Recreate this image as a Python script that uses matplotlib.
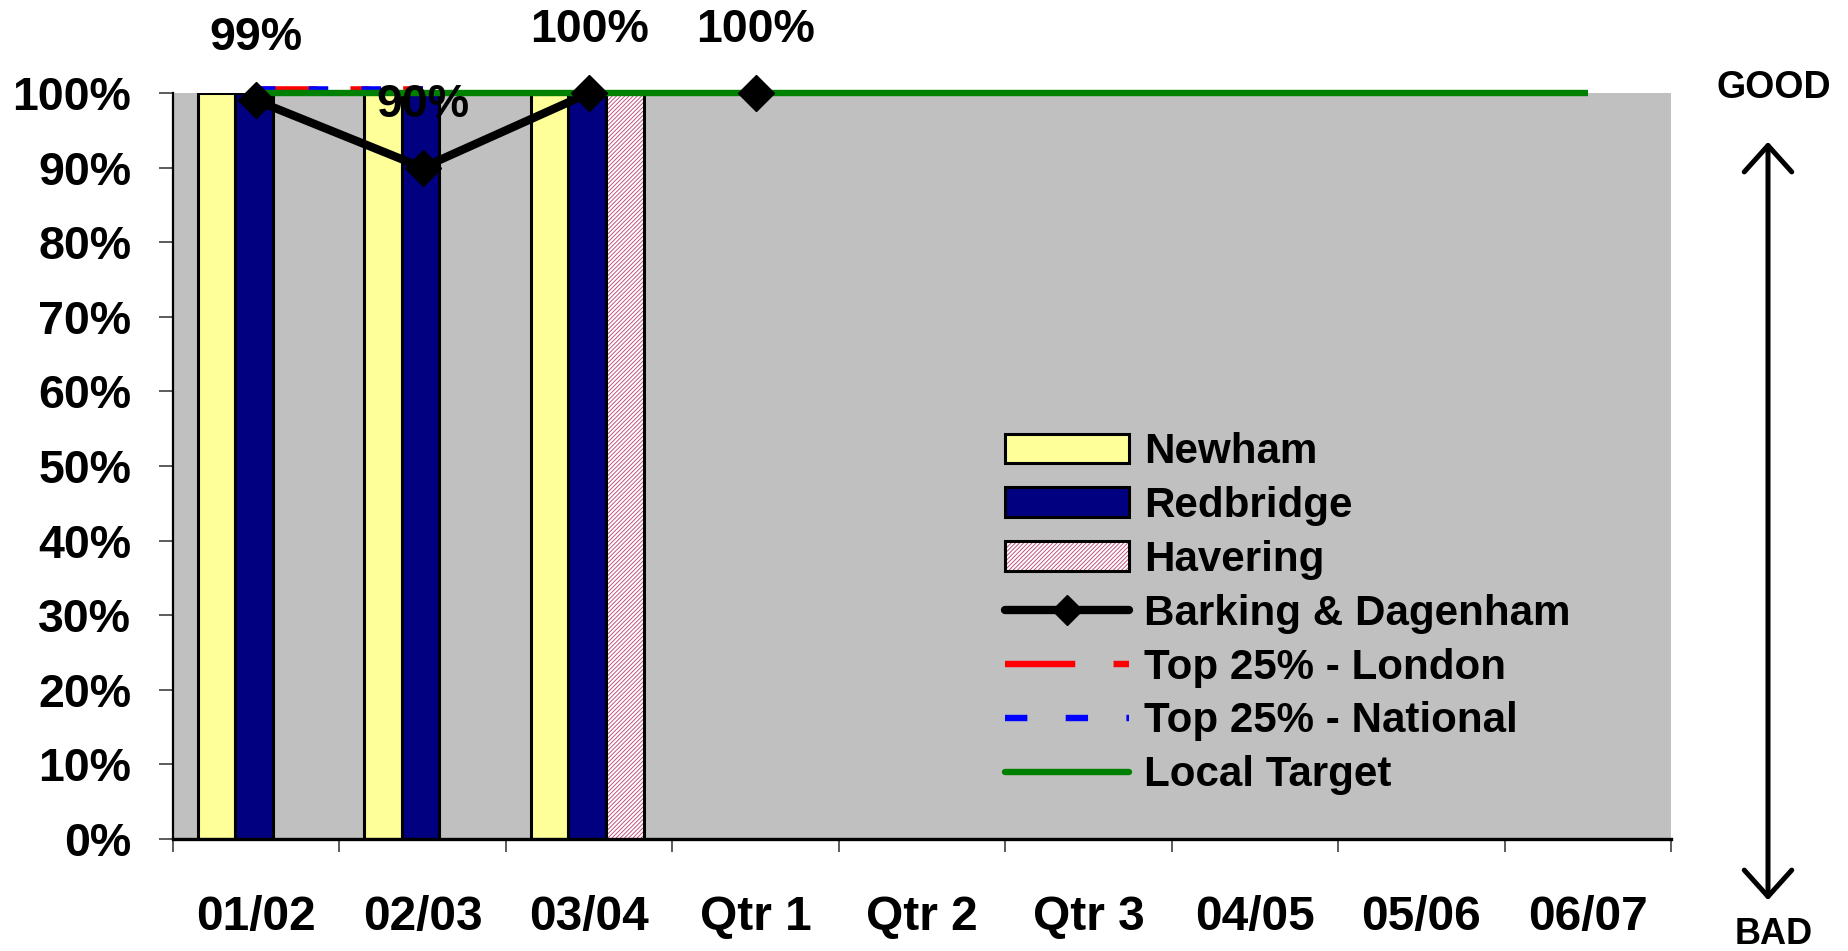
import numpy as np
import matplotlib
matplotlib.use("Agg")
import matplotlib.pyplot as plt
from matplotlib.lines import Line2D
from matplotlib.patches import Patch, FancyArrowPatch
from matplotlib.legend_handler import HandlerTuple
import matplotlib.transforms as mtransforms

# ---- data ----
categories = ["01/02", "02/03", "03/04", "Qtr 1", "Qtr 2", "Qtr 3", "04/05", "05/06", "06/07"]
period_type = ["year", "year", "year", "qtr", "qtr", "qtr", "year", "year", "year"]
newham = [1.00, 1.00, 1.00, np.nan, np.nan, np.nan, np.nan, np.nan, np.nan]
redbridge = [1.00, 1.00, 1.00, np.nan, np.nan, np.nan, np.nan, np.nan, np.nan]
havering = [np.nan, np.nan, 1.00, np.nan, np.nan, np.nan, np.nan, np.nan, np.nan]
barking = [0.99, 0.90, 1.00, 1.00, np.nan, np.nan, np.nan, np.nan, np.nan]
top25_london = [1.00, 1.00, np.nan, np.nan, np.nan, np.nan, np.nan, np.nan, np.nan]
top25_national = [1.00, 1.00, np.nan, np.nan, np.nan, np.nan, np.nan, np.nan, np.nan]
local_target = [1.00] * 9
y_ticks = [0.0, 0.1, 0.2, 0.3, 0.4, 0.5, 0.6, 0.7, 0.8, 0.9, 1.0]

FONT = "Liberation Sans"
plt.rcParams["font.family"] = [FONT, "DejaVu Sans"]
plt.rcParams["font.weight"] = "bold"
plt.rcParams["hatch.linewidth"] = 0.65

HAV_HATCH_COLOR = "#C04878"
HAV_HATCH = "/" * 8

fig = plt.figure(figsize=(18.48, 9.51), dpi=100)
ax = fig.add_axes([173 / 1848, 1 - 839 / 951, (1671 - 173) / 1848, (839 - 93) / 951])
ax.set_facecolor("#C0C0C0")

x = np.arange(len(categories))
w = 0.226
shift = -0.012

# bars
ax.bar(x - w + shift, newham, w, color="#FFFF99", edgecolor="black", linewidth=2.2, zorder=2)
ax.bar(x + shift, redbridge, w, color="#000080", edgecolor="black", linewidth=2.2, zorder=2)
ax.bar(x + w + shift, havering, w, color="white", edgecolor=HAV_HATCH_COLOR, hatch=HAV_HATCH,
       linewidth=0, zorder=2)
ax.bar(x + w + shift, havering, w, fill=False, edgecolor="black", linewidth=2.2, zorder=2.1)

# benchmark lines, nudged up a few pixels so they show beside the target line
nudge = mtransforms.offset_copy(ax.transData, fig=fig, x=0, y=4, units="dots")
ax.plot(x, top25_london, color="red", lw=4.0, dashes=(11, 6, 3.5, 6),
        transform=nudge, zorder=3, clip_on=False, solid_capstyle="butt")
ax.plot(x, top25_national, color="blue", lw=4.0, dashes=(3.5, 6),
        transform=nudge, zorder=3.05, clip_on=False)

# Barking & Dagenham: join consecutive points of the same period type
bd = np.array(barking, dtype=float)
for i in range(len(bd) - 1):
    if period_type[i] == period_type[i + 1] and not (np.isnan(bd[i]) or np.isnan(bd[i + 1])):
        ax.plot(x[i:i + 2], bd[i:i + 2], color="black", lw=6.0, zorder=3.2, clip_on=False,
                solid_capstyle="round")
# local target
ax.plot(x, local_target, color="#008000", lw=4.6, zorder=3.5, clip_on=False,
        solid_capstyle="butt")
# markers on top
ax.plot(x, bd, ls="none", marker="D", ms=18, color="black", zorder=4, clip_on=False)

# value labels
for xi, v in zip(x, bd):
    if not np.isnan(v):
        ax.annotate(f"{v:.0%}", (xi, v), xytext=(0, 45), textcoords="offset points",
                    ha="center", va="center", fontsize=33.5, fontweight="bold",
                    annotation_clip=False, zorder=5)

# axes styling
ax.set_xlim(-0.5, len(categories) - 0.5)
ax.set_ylim(0, 1)
ax.set_yticks(y_ticks)
ax.set_yticklabels([f"{t:.0%}" for t in y_ticks], fontsize=33.5, fontweight="bold")
ax.set_xticks(x)
ax.set_xticklabels(categories, fontsize=34.5, fontweight="bold")
ax.set_xticks(np.arange(len(categories) + 1) - 0.5, minor=True)
ax.tick_params(axis="x", which="major", length=0, pad=40)
ax.tick_params(axis="x", which="minor", length=9.5, width=1.2, color="#404040")
ax.tick_params(axis="y", length=10, width=1.2, color="#404040", pad=20)
for s in ("top", "right"):
    ax.spines[s].set_visible(False)
ax.spines["left"].set_linewidth(1.6)
ax.spines["bottom"].set_linewidth(2.4)
ax.spines["left"].set_zorder(6)
ax.spines["bottom"].set_zorder(6)

# legend
h_new = Patch(facecolor="#FFFF99", edgecolor="black", linewidth=2.2)
h_red = Patch(facecolor="#000080", edgecolor="black", linewidth=2.2)
h_hav = (Patch(facecolor="white", edgecolor=HAV_HATCH_COLOR, hatch=HAV_HATCH, linewidth=0),
         Patch(fill=False, edgecolor="black", linewidth=2.2))
h_bd = Line2D([], [], color="black", lw=6.0, marker="D", ms=15, solid_capstyle="round")
h_lon = Line2D([], [], color="red", lw=4.6, dashes=(11, 6, 3.5, 6))
h_nat = Line2D([], [], color="blue", lw=4.6, dashes=(3.5, 6))
h_tgt = Line2D([], [], color="#008000", lw=4.6, solid_capstyle="round")
leg = ax.legend([h_new, h_red, h_hav, h_bd, h_lon, h_nat, h_tgt],
                ["Newham", "Redbridge", "Havering", "Barking & Dagenham",
                 "Top 25% - London", "Top 25% - National", "Local Target"],
                handler_map={tuple: HandlerTuple(ndivide=1)},
                loc="upper left", bbox_to_anchor=(1005 / 1848, 1 - 432 / 951),
                bbox_transform=fig.transFigure, frameon=False, borderpad=0,
                borderaxespad=0, handlelength=2.95, handleheight=0.7,
                handletextpad=0.36, labelspacing=0.33,
                prop={"family": FONT, "weight": "bold", "size": 30.3})
leg.set_zorder(7)

# GOOD / BAD direction arrow
fig.text(1774 / 1848, 1 - 88 / 951, "GOOD", ha="center", va="center",
         fontsize=27, fontweight="bold")
fig.text(1774 / 1848, 1 - 935 / 951, "BAD", ha="center", va="center",
         fontsize=26, fontweight="bold")
fig.patches.append(FancyArrowPatch(
    (1768 / 1848, 1 - 903 / 951), (1768 / 1848, 1 - 139 / 951),
    transform=fig.transFigure, arrowstyle="<->,head_length=0.5,head_width=0.45",
    mutation_scale=38, lw=3.6, color="black", capstyle="round", joinstyle="round"))

fig.savefig("out.png", dpi=100)
